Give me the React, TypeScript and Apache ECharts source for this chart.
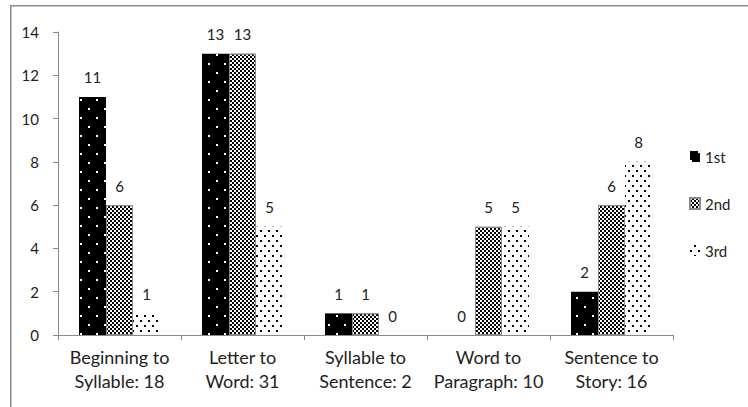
import React, { useEffect, useRef } from "react";
import * as echarts from "echarts";

const categories = [
  "Beginning to\nSyllable: 18",
  "Letter to\nWord: 31",
  "Syllable to\nSentence: 2",
  "Word to\nParagraph: 10",
  "Sentence to\nStory: 16",
];
const seriesNames = ["1st", "2nd", "3rd"];
const firstValues = [11, 13, 1, 0, 2];
const secondValues = [6, 13, 1, 5, 6];
const thirdValues = [1, 5, 0, 5, 8];
const yTicks = { min: 0, max: 14, interval: 2 };

const FONT = "Lato, 'Open Sans', sans-serif";

export default function App() {
  const ref = useRef<HTMLDivElement>(null);
  useEffect(() => {
    if (!ref.current) return;
    const chart = echarts.init(ref.current, undefined, { renderer: "svg" });
    const label = {
      show: true,
      position: "top",
      distance: 12,
      fontSize: 15,
      color: "#222",
      fontFamily: FONT,
    };
    const styles = [
      {
        color: "#000",
        decal: {
          symbol: "rect",
          symbolSize: 1,
          color: "#fff",
          dashArrayX: [[2, 14], [0, 8, 2, 6]],
          dashArrayY: [2, 6.4],
        },
      },
      {
        color: "#fff",
        borderColor: "#8a8a8a",
        borderWidth: 1,
        decal: {
          symbol: "rect",
          symbolSize: 1,
          color: "#000",
          dashArrayX: [[2, 2], [0, 2, 2, 0]],
          dashArrayY: [2, 0],
        },
      },
      {
        color: "#fff",
        decal: {
          symbol: "rect",
          symbolSize: 1,
          color: "#000",
          dashArrayX: [[2, 6], [0, 4, 2, 2]],
          dashArrayY: [2, 3],
        },
      },
    ];
    const values = [firstValues, secondValues, thirdValues];
    chart.setOption({
      animation: false,
      backgroundColor: "#fff",
      textStyle: { fontFamily: FONT },
      graphic: [
        {
          type: "rect",
          shape: { x: 10.75, y: 5.75, width: 1000, height: 1000 },
          style: { fill: "none", stroke: "#8c8c8c", lineWidth: 1.5 },
          silent: true,
        },
      ],
      grid: { left: 58, right: 75, top: 32, bottom: 72, containLabel: false },
      legend: {
        orient: "vertical",
        left: 684,
        top: 144,
        itemGap: 32,
        itemWidth: 10,
        itemHeight: 11,
        icon: "rect",
        data: seriesNames,
        textStyle: { fontSize: 15, color: "#222", fontFamily: FONT },
      },
      xAxis: {
        type: "category",
        data: categories,
        axisLine: { lineStyle: { color: "#898989", width: 1 } },
        axisTick: { show: true, length: 5, lineStyle: { color: "#898989" } },
        axisLabel: {
          fontSize: 18,
          lineHeight: 24,
          color: "#222",
          margin: 10,
          fontFamily: FONT,
          interval: 0,
        },
      },
      yAxis: {
        type: "value",
        min: yTicks.min,
        max: yTicks.max,
        interval: yTicks.interval,
        splitLine: { show: false },
        axisLine: { show: true, lineStyle: { color: "#898989", width: 1 } },
        axisTick: { show: true, length: 5, lineStyle: { color: "#898989" } },
        axisLabel: { fontSize: 15, color: "#222", margin: 19, fontFamily: FONT },
      },
      series: seriesNames.map((name, i) => ({
        name,
        type: "bar",
        data: values[i],
        barWidth: 27,
        barGap: "0%",
        itemStyle: styles[i],
        label,
      })),
    });
    return () => chart.dispose();
  }, []);
  return (
    <div
      ref={ref}
      style={{ position: "absolute", left: 0, top: 0, width: 748, height: 407 }}
    />
  );
}
